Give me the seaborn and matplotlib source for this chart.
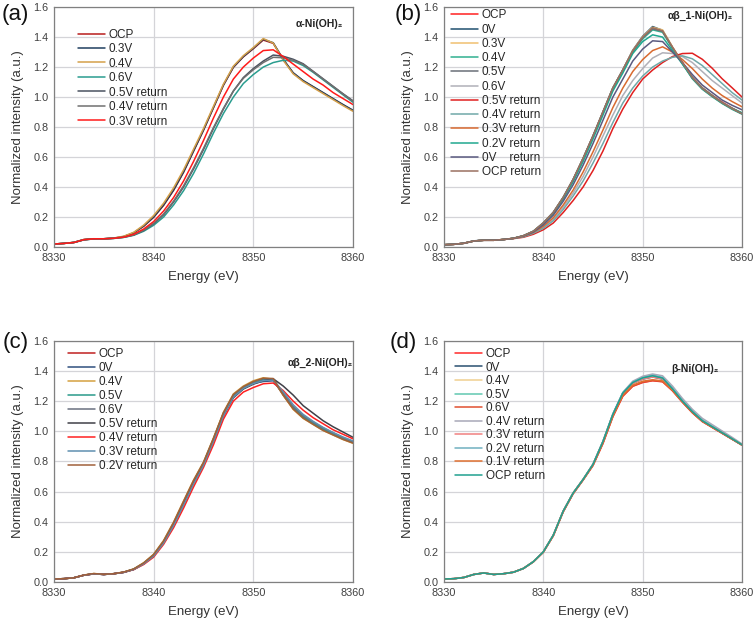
import pandas as pd
import numpy as np
import matplotlib.pyplot as plt
import seaborn as sns

sns.set_style("whitegrid")
plt.rcParams['font.family'] = ['Liberation Sans', 'DejaVu Sans']

energy = [8330, 8331, 8332, 8333, 8334, 8335, 8336, 8337, 8338, 8339, 8340,
          8341, 8342, 8343, 8344, 8345, 8346, 8347, 8348, 8349, 8350,
          8351, 8352, 8353, 8354, 8355, 8356, 8357, 8358, 8359, 8360]

# (a) alpha-Ni(OH)2
a_labels = ["OCP", "0.3V", "0.4V", "0.6V", "0.5V return", "0.4V return", "0.3V return"]
a_colors = ["#b81c1c", "#1f3f5f", "#d4a04a", "#2a9d8f", "#4a5260", "#707070", "#ff1a1a"]
a_ocp = [0.020,0.024,0.031,0.049,0.055,0.054,0.059,0.069,0.094,0.138,0.198,0.278,0.378,0.498,0.638,0.778,0.928,1.078,1.198,1.268,1.322,1.380,1.358,1.250,1.160,1.108,1.068,1.028,0.988,0.948,0.910]
a_03 = [0.020,0.024,0.031,0.050,0.054,0.055,0.059,0.070,0.095,0.140,0.200,0.280,0.380,0.500,0.640,0.780,0.930,1.080,1.200,1.270,1.325,1.385,1.362,1.252,1.162,1.110,1.070,1.030,0.990,0.950,0.912]
a_04 = [0.020,0.024,0.031,0.050,0.055,0.055,0.060,0.072,0.098,0.146,0.210,0.292,0.394,0.514,0.652,0.790,0.938,1.086,1.206,1.276,1.330,1.390,1.360,1.245,1.155,1.103,1.063,1.023,0.983,0.943,0.905]
a_06 = [0.020,0.024,0.030,0.048,0.054,0.055,0.057,0.064,0.078,0.105,0.145,0.200,0.280,0.375,0.490,0.620,0.760,0.890,1.000,1.090,1.150,1.200,1.230,1.245,1.240,1.210,1.165,1.115,1.065,1.015,0.965]
a_05r = [0.020,0.024,0.030,0.048,0.054,0.055,0.058,0.065,0.080,0.110,0.155,0.215,0.300,0.400,0.520,0.650,0.790,0.920,1.040,1.130,1.190,1.240,1.280,1.272,1.252,1.222,1.172,1.122,1.072,1.022,0.975]
a_04r = [0.020,0.024,0.030,0.048,0.054,0.055,0.058,0.065,0.081,0.112,0.158,0.220,0.306,0.408,0.528,0.658,0.796,0.924,1.040,1.125,1.182,1.230,1.265,1.262,1.245,1.218,1.170,1.120,1.070,1.020,0.972]
a_03r = [0.020,0.024,0.030,0.049,0.055,0.055,0.058,0.066,0.085,0.120,0.170,0.240,0.330,0.440,0.570,0.710,0.860,1.000,1.120,1.200,1.260,1.310,1.315,1.270,1.220,1.170,1.120,1.080,1.030,0.990,0.950]

# (b) alpha-beta_1-Ni(OH)2
b_labels = ["OCP", "0V", "0.3V", "0.4V", "0.5V", "0.6V", "0.5V return", "0.4V return",
            "0.3V return", "0.2V return", "0V    return", "OCP return"]
b_colors = ["#ff2020", "#1f4f6f", "#f0c070", "#30b090", "#6a6f78", "#b0b0b8", "#e02020",
            "#70a8a8", "#d86a30", "#20a890", "#5a5a80", "#9a7060"]
b_ocp = [0.015,0.018,0.025,0.040,0.045,0.045,0.050,0.058,0.075,0.104,0.158,0.228,0.327,0.447,0.587,0.737,0.897,1.057,1.178,1.305,1.395,1.455,1.438,1.332,1.232,1.132,1.062,1.012,0.967,0.927,0.892]
b_0 = [0.015,0.018,0.025,0.041,0.046,0.045,0.050,0.058,0.076,0.106,0.162,0.232,0.332,0.452,0.592,0.742,0.902,1.062,1.182,1.312,1.405,1.470,1.445,1.330,1.225,1.125,1.055,1.005,0.960,0.922,0.888]
b_03 = [0.015,0.018,0.025,0.040,0.045,0.046,0.050,0.058,0.075,0.105,0.160,0.230,0.330,0.450,0.590,0.740,0.900,1.060,1.180,1.310,1.402,1.465,1.448,1.335,1.228,1.128,1.058,1.008,0.963,0.924,0.890]
b_04 = [0.015,0.018,0.025,0.040,0.045,0.045,0.050,0.058,0.075,0.104,0.158,0.228,0.328,0.448,0.588,0.738,0.898,1.058,1.178,1.300,1.388,1.448,1.432,1.325,1.222,1.122,1.052,1.002,0.957,0.918,0.886]
b_05 = [0.015,0.018,0.025,0.040,0.045,0.045,0.050,0.058,0.075,0.104,0.159,0.229,0.329,0.449,0.589,0.739,0.899,1.059,1.179,1.305,1.395,1.455,1.438,1.330,1.228,1.128,1.058,1.008,0.963,0.924,0.890]
b_06 = [0.015,0.018,0.025,0.040,0.045,0.045,0.050,0.058,0.070,0.095,0.130,0.185,0.265,0.360,0.470,0.600,0.740,0.880,1.010,1.110,1.190,1.260,1.295,1.290,1.270,1.230,1.170,1.110,1.060,1.010,0.960]
b_05r = [0.015,0.018,0.025,0.040,0.045,0.045,0.050,0.056,0.065,0.085,0.115,0.160,0.230,0.310,0.400,0.510,0.640,0.790,0.920,1.030,1.120,1.180,1.230,1.270,1.290,1.292,1.252,1.192,1.122,1.062,1.000]
b_04r = [0.015,0.018,0.025,0.040,0.045,0.045,0.050,0.057,0.068,0.092,0.125,0.175,0.250,0.340,0.440,0.560,0.690,0.830,0.960,1.060,1.140,1.200,1.240,1.265,1.275,1.255,1.210,1.150,1.090,1.030,0.980]
b_03r = [0.015,0.018,0.025,0.040,0.045,0.045,0.050,0.058,0.072,0.098,0.138,0.195,0.280,0.380,0.500,0.635,0.780,0.930,1.060,1.170,1.250,1.310,1.335,1.300,1.250,1.190,1.120,1.060,1.010,0.970,0.935]
b_02r = [0.015,0.018,0.025,0.040,0.045,0.045,0.050,0.058,0.074,0.103,0.155,0.222,0.320,0.435,0.570,0.720,0.880,1.040,1.160,1.290,1.370,1.415,1.400,1.310,1.220,1.130,1.060,1.010,0.960,0.925,0.895]
b_0r = [0.015,0.018,0.025,0.040,0.045,0.045,0.050,0.058,0.073,0.100,0.148,0.212,0.305,0.415,0.545,0.690,0.845,1.000,1.120,1.240,1.320,1.375,1.370,1.300,1.230,1.150,1.080,1.030,0.980,0.945,0.915]
b_ocpr = [0.015,0.018,0.025,0.040,0.045,0.045,0.050,0.058,0.075,0.105,0.160,0.230,0.331,0.451,0.591,0.741,0.901,1.061,1.181,1.308,1.400,1.462,1.442,1.332,1.230,1.130,1.058,1.008,0.962,0.923,0.889]

# (c) alpha-beta_2-Ni(OH)2
c_labels = ["OCP", "0V", "0.4V", "0.5V", "0.6V", "0.5V return", "0.4V return", "0.3V return", "0.2V return"]
c_colors = ["#c02020", "#2f4f7f", "#d4a040", "#2a9a8a", "#6a7080", "#404048", "#ff2020", "#5f8fb0", "#a0603a"]
c_ocp = [0.020,0.022,0.028,0.045,0.055,0.050,0.055,0.065,0.085,0.125,0.180,0.270,0.390,0.530,0.670,0.790,0.950,1.120,1.240,1.290,1.320,1.345,1.340,1.240,1.150,1.090,1.050,1.010,0.980,0.950,0.925]
c_0 = [0.020,0.022,0.028,0.045,0.054,0.050,0.055,0.064,0.084,0.123,0.178,0.266,0.385,0.524,0.664,0.786,0.945,1.114,1.236,1.288,1.318,1.330,1.335,1.245,1.155,1.095,1.052,1.012,0.980,0.950,0.925]
c_04 = [0.020,0.022,0.028,0.046,0.056,0.051,0.055,0.066,0.087,0.128,0.184,0.276,0.398,0.538,0.676,0.796,0.956,1.126,1.248,1.300,1.335,1.355,1.345,1.238,1.145,1.085,1.045,1.005,0.975,0.945,0.920]
c_05 = [0.020,0.022,0.028,0.045,0.055,0.050,0.055,0.065,0.085,0.124,0.179,0.268,0.387,0.526,0.666,0.788,0.948,1.118,1.238,1.292,1.325,1.342,1.342,1.248,1.158,1.098,1.055,1.015,0.983,0.953,0.928]
c_06 = [0.020,0.022,0.028,0.045,0.054,0.050,0.055,0.064,0.084,0.122,0.176,0.264,0.382,0.520,0.660,0.782,0.940,1.108,1.230,1.285,1.318,1.338,1.345,1.255,1.165,1.105,1.062,1.022,0.990,0.958,0.932]
c_05r = [0.020,0.022,0.028,0.045,0.054,0.050,0.055,0.064,0.083,0.120,0.174,0.260,0.376,0.512,0.652,0.776,0.932,1.100,1.222,1.280,1.312,1.335,1.348,1.300,1.240,1.170,1.120,1.070,1.030,0.995,0.960]
c_04r = [0.020,0.022,0.028,0.045,0.054,0.050,0.055,0.064,0.082,0.116,0.165,0.250,0.360,0.490,0.630,0.760,0.910,1.080,1.200,1.260,1.290,1.315,1.320,1.270,1.200,1.140,1.090,1.050,1.010,0.980,0.950]
c_03r = [0.020,0.022,0.028,0.045,0.054,0.050,0.055,0.064,0.083,0.120,0.172,0.258,0.374,0.510,0.650,0.774,0.932,1.102,1.226,1.284,1.316,1.336,1.340,1.262,1.176,1.112,1.066,1.026,0.992,0.962,0.936]
c_02r = [0.020,0.022,0.028,0.046,0.056,0.051,0.055,0.066,0.086,0.126,0.182,0.272,0.394,0.534,0.672,0.792,0.952,1.122,1.244,1.296,1.330,1.352,1.350,1.240,1.148,1.088,1.046,1.006,0.976,0.946,0.922]

# (d) beta-Ni(OH)2
d_labels = ["OCP", "0V", "0.4V", "0.5V", "0.6V", "0.4V return", "0.3V return",
            "0.2V return", "0.1V return", "OCP return"]
d_colors = ["#ff2a2a", "#2a5070", "#f0d090", "#60c8b0", "#e05030", "#a8a8b8", "#f08080",
            "#70b0c0", "#e07030", "#20a090"]
d_ocp = [0.020,0.022,0.030,0.050,0.060,0.050,0.055,0.065,0.090,0.134,0.198,0.306,0.465,0.585,0.676,0.772,0.918,1.096,1.232,1.298,1.323,1.335,1.328,1.268,1.192,1.122,1.064,1.025,0.986,0.947,0.908]
d_0 = [0.020,0.022,0.030,0.050,0.060,0.050,0.055,0.065,0.090,0.135,0.200,0.310,0.470,0.590,0.680,0.780,0.930,1.110,1.250,1.318,1.346,1.360,1.346,1.278,1.198,1.128,1.068,1.028,0.988,0.948,0.908]
d_04 = [0.020,0.022,0.030,0.050,0.060,0.050,0.055,0.065,0.091,0.136,0.201,0.311,0.471,0.591,0.681,0.781,0.931,1.111,1.251,1.320,1.350,1.365,1.350,1.280,1.200,1.130,1.070,1.030,0.990,0.950,0.910]
d_05 = [0.020,0.022,0.030,0.050,0.060,0.050,0.055,0.065,0.090,0.135,0.200,0.310,0.470,0.590,0.680,0.780,0.932,1.112,1.254,1.324,1.355,1.370,1.355,1.283,1.202,1.132,1.072,1.031,0.991,0.951,0.911]
d_06 = [0.020,0.022,0.030,0.050,0.060,0.050,0.055,0.065,0.090,0.134,0.198,0.306,0.466,0.586,0.676,0.774,0.920,1.098,1.234,1.300,1.325,1.336,1.330,1.270,1.194,1.124,1.066,1.026,0.987,0.948,0.908]
d_04r = [0.020,0.022,0.030,0.050,0.060,0.050,0.055,0.065,0.090,0.135,0.200,0.310,0.470,0.590,0.680,0.782,0.934,1.116,1.258,1.332,1.365,1.380,1.368,1.300,1.218,1.146,1.086,1.044,1.002,0.960,0.916]
d_03r = [0.020,0.022,0.030,0.050,0.060,0.050,0.055,0.065,0.090,0.135,0.200,0.310,0.470,0.590,0.680,0.780,0.930,1.110,1.250,1.318,1.347,1.360,1.348,1.280,1.200,1.130,1.070,1.030,0.990,0.950,0.910]
d_02r = [0.020,0.022,0.030,0.050,0.060,0.050,0.055,0.065,0.090,0.135,0.200,0.310,0.470,0.590,0.680,0.781,0.932,1.113,1.255,1.326,1.356,1.372,1.357,1.286,1.205,1.134,1.074,1.033,0.992,0.952,0.912]
d_01r = [0.020,0.022,0.030,0.050,0.060,0.050,0.055,0.065,0.090,0.134,0.199,0.308,0.468,0.588,0.678,0.776,0.924,1.102,1.240,1.306,1.332,1.342,1.334,1.272,1.195,1.125,1.066,1.027,0.988,0.948,0.909]
d_ocpr = [0.020,0.022,0.030,0.050,0.060,0.050,0.055,0.065,0.090,0.135,0.200,0.310,0.470,0.590,0.680,0.780,0.931,1.112,1.253,1.323,1.354,1.368,1.353,1.281,1.200,1.130,1.070,1.030,0.990,0.950,0.910]

panels = [
    dict(label="(a)", title="α-Ni(OH)₂", names=a_labels, colors=a_colors,
         series=[a_ocp, a_03, a_04, a_06, a_05r, a_04r, a_03r],
         rect=[0.0714, 0.6016, 0.3955, 0.387], leg=(0.08, 0.91), spacing=0.21,
         tpos=(0.965, 0.93), lpos=(0.002, 0.976)),
    dict(label="(b)", title="αβ_1-Ni(OH)₂", names=b_labels, colors=b_colors,
         series=[b_ocp, b_0, b_03, b_04, b_05, b_06, b_05r, b_04r, b_03r, b_02r, b_0r, b_ocpr],
         rect=[0.5873, 0.6016, 0.3942, 0.387], leg=(0.023, 0.99), spacing=0.19,
         tpos=(0.97, 0.965), lpos=(0.522, 0.976)),
    dict(label="(c)", title="αβ_2-Ni(OH)₂", names=c_labels, colors=c_colors,
         series=[c_ocp, c_0, c_04, c_05, c_06, c_05r, c_04r, c_03r, c_02r],
         rect=[0.0714, 0.0613, 0.3955, 0.389], leg=(0.047, 0.97), spacing=0.17,
         tpos=(1.0, 0.91), lpos=(0.003, 0.447)),
    dict(label="(d)", title="β-Ni(OH)₂", names=d_labels, colors=d_colors,
         series=[d_ocp, d_0, d_04, d_05, d_06, d_04r, d_03r, d_02r, d_01r, d_ocpr],
         rect=[0.5873, 0.0613, 0.3942, 0.389], leg=(0.037, 0.97), spacing=0.13,
         tpos=(0.92, 0.885), lpos=(0.515, 0.447)),
]

fig = plt.figure(figsize=(7.56, 6.2), dpi=100)

for p in panels:
    ax = fig.add_axes(p["rect"])
    rows = []
    for name, vals in zip(p["names"], p["series"]):
        for e, v in zip(energy, vals):
            rows.append({"Energy": e, "Intensity": v, "Sample": name})
    df = pd.DataFrame(rows)
    sns.lineplot(data=df, x="Energy", y="Intensity", hue="Sample",
                 hue_order=p["names"], palette=dict(zip(p["names"], p["colors"])),
                 errorbar=None, linewidth=1.1, ax=ax)

    ax.set_xlim(8330, 8360)
    ax.set_ylim(0, 1.6)
    ax.set_xticks([8330, 8340, 8350, 8360])
    ax.set_yticks([0.0, 0.2, 0.4, 0.6, 0.8, 1.0, 1.2, 1.4, 1.6])
    ax.set_yticklabels(["0.0", "0.2", "0.4", "0.6", "0.8", "1.0", "1.2", "1.4", "1.6"])
    ax.grid(True, color="#d4d4d8", linewidth=0.9)
    for s in ax.spines.values():
        s.set_color("#808080")
        s.set_linewidth(0.9)
    ax.tick_params(length=0, labelsize=7.8, colors="#404040", pad=4)
    ax.set_xlabel("Energy (eV)", fontsize=9.5, color="#333333", labelpad=6)
    ax.set_ylabel("Normalized intensity (a.u.)", fontsize=9.5, color="#333333", labelpad=7)

    h, l = ax.get_legend_handles_labels()
    ax.legend(h, l, loc="upper left", bbox_to_anchor=p["leg"], frameon=False,
              fontsize=8.5, handlelength=2.3, handletextpad=0.3, labelspacing=p["spacing"],
              borderpad=0, borderaxespad=0)

    ax.text(p["tpos"][0], p["tpos"][1], p["title"], transform=ax.transAxes,
            ha="right", va="center", fontsize=7.5, fontweight="bold", color="#222222")
    fig.text(p["lpos"][0], p["lpos"][1], p["label"], ha="left", va="center",
             fontsize=16, color="#111111")

plt.savefig("out.png", dpi=100)
